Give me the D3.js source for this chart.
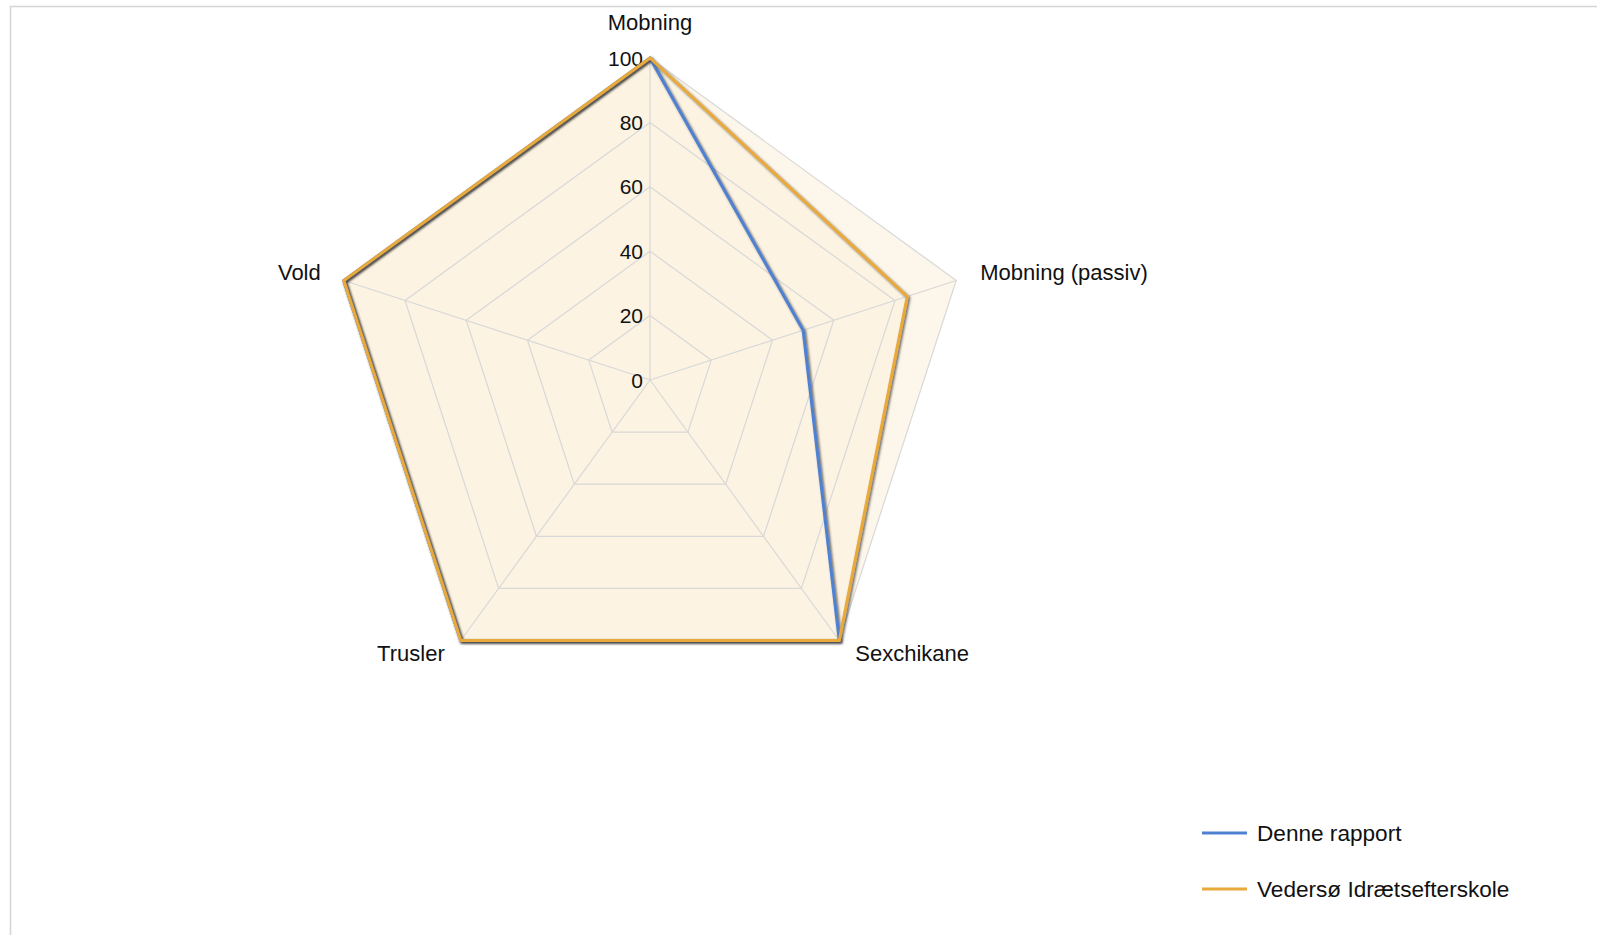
<!DOCTYPE html>
<html>
<head>
<meta charset="utf-8">
<script src="https://d3js.org/d3.v7.min.js"></script>
<style>
body {
  margin: 0;
  background: #ffffff;
  font-family: "Liberation Sans", Arial, sans-serif;
  color: #111111;
}
</style>
</head>
<body>
<div id="chart"></div>
<script>
// data
var axesNames = ["Mobning", "Mobning (passiv)", "Sexchikane", "Trusler", "Vold"];
var tickValues = [0, 20, 40, 60, 80, 100];
var seriesNames = ["Denne rapport", "Vedersø Idrætsefterskole"];
var denneRapport = [100, 50, 100, 100, 100];
var vedersoe = [100, 84, 100, 100, 100];
var seriesColors = ["#4f81d3", "#e9a93a"];

var WIDTH = 1597, HEIGHT = 935;
var cx = 650, cy = 380, R = 322;

var svg = d3.select("#chart").append("svg")
  .attr("width", WIDTH)
  .attr("height", HEIGHT);

// shadow under the series lines
var defs = svg.append("defs");
defs.append("filter")
    .attr("id", "shadow")
    .attr("x", "-10%").attr("y", "-10%")
    .attr("width", "120%").attr("height", "120%")
  .append("feDropShadow")
    .attr("dx", 1.5).attr("dy", 1.5)
    .attr("stdDeviation", 0.8)
    .attr("flood-color", "#333")
    .attr("flood-opacity", 0.75);

// frame
svg.append("rect")
  .attr("x", 10.5).attr("y", 6.5)
  .attr("width", WIDTH).attr("height", HEIGHT)
  .attr("fill", "none")
  .attr("stroke", "#d4d4d4")
  .attr("stroke-width", 1.5);

var r = d3.scaleLinear().domain([0, 100]).range([0, R]);
var angle = d3.scaleLinear().domain([0, axesNames.length]).range([0, 2 * Math.PI]);

function pt(i, v) {
  var a = angle(i);
  return [cx + r(v) * Math.sin(a), cy - r(v) * Math.cos(a)];
}

var g = svg.append("g");

// web background
g.append("polygon")
  .attr("points", axesNames.map(function(d, i) { return pt(i, 100).join(","); }).join(" "))
  .attr("fill", "#fdf6ea")
  .attr("stroke", "none");

// area of the school series (slightly darker tone)
g.append("polygon")
  .attr("points", vedersoe.map(function(v, i) { return pt(i, v).join(","); }).join(" "))
  .attr("fill", "#f5dcb0")
  .attr("fill-opacity", 0.12);

// grid rings
g.selectAll(".ring")
  .data(tickValues.slice(1))
  .enter().append("polygon")
    .attr("class", "ring")
    .attr("points", function(t) {
      return axesNames.map(function(d, i) { return pt(i, t).join(","); }).join(" ");
    })
    .attr("fill", "none")
    .attr("stroke", "#d8d8d8")
    .attr("stroke-width", 1.2);

// spokes
g.selectAll(".spoke")
  .data(axesNames)
  .enter().append("line")
    .attr("class", "spoke")
    .attr("x1", cx).attr("y1", cy)
    .attr("x2", function(d, i) { return pt(i, 100)[0]; })
    .attr("y2", function(d, i) { return pt(i, 100)[1]; })
    .attr("stroke", "#d8d8d8")
    .attr("stroke-width", 1.2);

// tick labels along the first axis
g.selectAll(".tick")
  .data(tickValues)
  .enter().append("text")
    .attr("class", "tick")
    .attr("x", cx - 7)
    .attr("y", function(t) { return cy - r(t); })
    .attr("dy", "0.36em")
    .attr("text-anchor", "end")
    .attr("font-size", 21)
    .attr("fill", "#111")
    .text(function(t) { return t; });

// series lines
var line = d3.line().curve(d3.curveLinearClosed);
var allSeries = [denneRapport, vedersoe];
g.selectAll(".series")
  .data(allSeries)
  .enter().append("path")
    .attr("class", "series")
    .attr("d", function(s) { return line(s.map(function(v, i) { return pt(i, v); })); })
    .attr("fill", "none")
    .attr("stroke", function(s, k) { return seriesColors[k]; })
    .attr("stroke-width", 3)
    .attr("stroke-linejoin", "miter")
    .attr("filter", "url(#shadow)");

// axis labels
var labelPos = [
  { dx: 0, dy: -28, anchor: "middle" },
  { dx: 24, dy: 0, anchor: "start" },
  { dx: 16, dy: 20, anchor: "start" },
  { dx: -16, dy: 20, anchor: "end" },
  { dx: -23, dy: 0, anchor: "end" }
];
g.selectAll(".axis-label")
  .data(axesNames)
  .enter().append("text")
    .attr("class", "axis-label")
    .attr("x", function(d, i) { return pt(i, 100)[0] + labelPos[i].dx; })
    .attr("y", function(d, i) { return pt(i, 100)[1] + labelPos[i].dy; })
    .attr("text-anchor", function(d, i) { return labelPos[i].anchor; })
    .attr("font-size", 22)
    .attr("fill", "#111")
    .text(function(d) { return d; });

// legend
var legend = svg.append("g")
  .attr("transform", "translate(1202,833)");
var item = legend.selectAll(".item")
  .data(seriesNames)
  .enter().append("g")
    .attr("class", "item")
    .attr("transform", function(d, i) { return "translate(0," + (i * 56) + ")"; });
item.append("line")
  .attr("x1", 0).attr("x2", 45)
  .attr("y1", 0).attr("y2", 0)
  .attr("stroke", function(d, i) { return seriesColors[i]; })
  .attr("stroke-width", 3);
item.append("text")
  .attr("x", 55)
  .attr("y", 8)
  .attr("font-size", 22.6)
  .attr("fill", "#111")
  .text(function(d) { return d; });
</script>
</body>
</html>
